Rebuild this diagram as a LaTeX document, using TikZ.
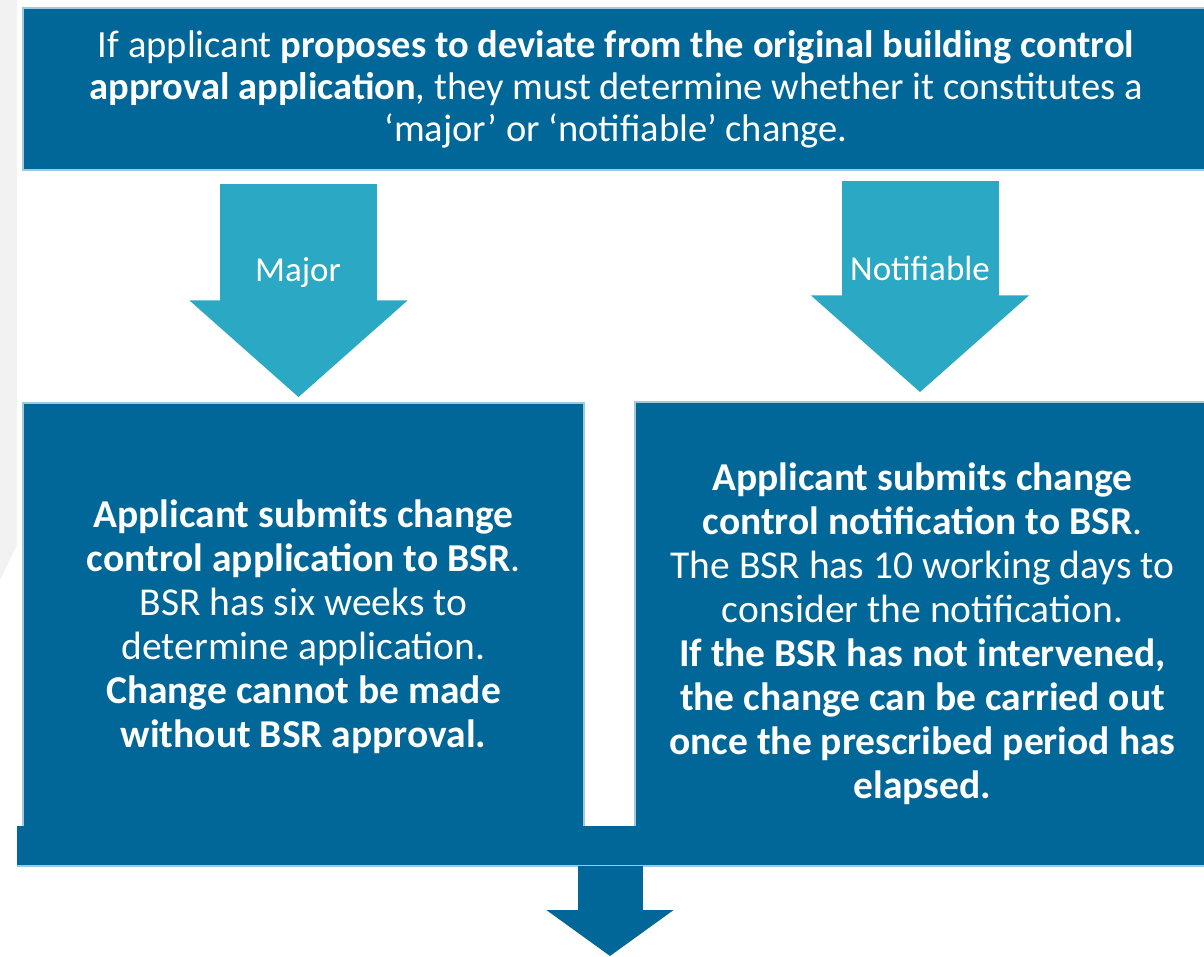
\documentclass[tikz,border=0pt]{standalone}
\usepackage{fontspec}
\setmainfont{Carlito}
\usetikzlibrary{arrows.meta, positioning}
\definecolor{bsrdark}{RGB}{0,103,152}
\definecolor{bsrlight}{RGB}{43,168,196}
\definecolor{bsredge}{RGB}{160,200,222}
\definecolor{pagegrey}{RGB}{242,242,242}
\tikzstyle{infobox} = [rectangle, fill=bsrdark, draw=bsredge, line width=1.5pt, text=white, align=center, inner sep=0pt]
\tikzstyle{boxtext} = [font=\fontsize{39.5}{44}\selectfont]
\tikzstyle{choice} = [line width=157pt, draw=bsrlight, -{Triangle[width=213pt, length=97pt]}]
\tikzstyle{outflow} = [line width=65pt, draw=bsrdark, -{Triangle[width=125pt, length=46pt]}]
\tikzstyle{arrowlabel} = [text=white, font=\fontsize{35}{38}\selectfont]

\begin{document}
\begin{tikzpicture}[x=1pt, y=-1pt]
\useasboundingbox (0,0) rectangle (1204,956);
\fill [pagegrey] (0,0) -- (17,0) -- (17,545) -- (0,580) -- cycle;

\node at (616, 89) (question) [infobox, minimum width=1186pt, minimum height=162pt, font=\fontsize{38.5}{42}\selectfont] {If applicant \textbf{proposes to deviate from the original building control}\\ \textbf{approval application}, they must determine whether it constitutes a\\ ‘major’ or ‘notifiable’ change.};

\node at (303.5, 626.5) (major) [infobox, boxtext, minimum width=561pt, minimum height=447pt] {\textbf{Applicant submits change}\\ \textbf{control application to BSR}.\\ BSR has six weeks to\\ determine application.\\ \textbf{Change cannot be made}\\ \textbf{without BSR approval.}};
\node at (922.5, 634) (notifiable) [infobox, boxtext, minimum width=575pt, minimum height=464pt] {\textbf{Applicant submits change}\\ \textbf{control notification to BSR}.\\ The BSR has 10 working days to\\ consider the notification.\\ \textbf{If the BSR has not intervened,}\\ \textbf{the change can be carried out}\\ \textbf{once the prescribed period has}\\ \textbf{elapsed.}};

\node at (613, 846) (merge) [rectangle, fill=bsrdark, minimum width=1192pt, minimum height=40pt, inner sep=0pt] {};
\draw [bsredge, line width=1.5pt] (merge.south west) -- (merge.south east);
\coordinate (exit) at (610, 956);

\draw [choice] ([xshift=-5pt, yshift=-13pt]question.south -| major.north) -- ([xshift=-5pt, yshift=5pt]major.north);
\draw [choice] ([xshift=-2.5pt, yshift=-10pt]question.south -| notifiable.north) -- ([xshift=-2.5pt, yshift=9pt]notifiable.north);
\draw [outflow] (merge.south -| exit) -- (exit);

\node at (298, 272) (majorlabel) [arrowlabel] {Major};
\node at (920, 268) (notifiablelabel) [arrowlabel] {Notifiable};

\end{tikzpicture}
\end{document}
